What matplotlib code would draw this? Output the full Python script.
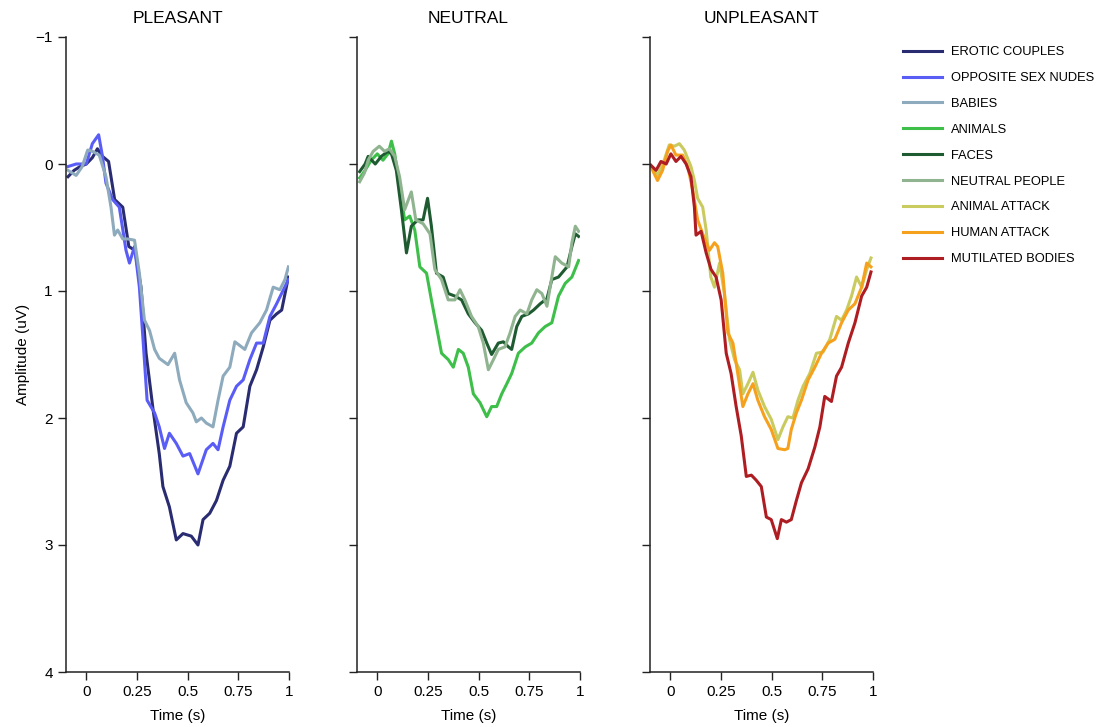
import matplotlib.pyplot as plt

plt.rcParams['font.family'] = ['Liberation Sans', 'DejaVu Sans']

# --- data (time in s, amplitude in uV) ---
t_erotic = [-0.09, -0.06, -0.03, 0.0, 0.03, 0.055, 0.08, 0.11, 0.14, 0.18, 0.21, 0.24, 0.27, 0.295,
            0.33, 0.36, 0.378, 0.41, 0.444, 0.477, 0.518, 0.551, 0.576, 0.609, 0.642, 0.675,
            0.708, 0.741, 0.774, 0.807, 0.84, 0.873, 0.906, 0.939, 0.964, 0.997]
v_erotic = [0.10, 0.05, 0.02, 0.0, -0.05, -0.12, -0.06, -0.02, 0.28, 0.34, 0.65, 0.68, 0.97, 1.49,
            1.94, 2.28, 2.54, 2.70, 2.96, 2.91, 2.93, 3.0, 2.80, 2.75, 2.65, 2.49,
            2.38, 2.12, 2.07, 1.75, 1.62, 1.44, 1.23, 1.18, 1.15, 0.89]

t_nudes = [-0.09, -0.05, 0.0, 0.03, 0.061, 0.08, 0.097, 0.13, 0.163, 0.196, 0.213, 0.238, 0.262,
           0.279, 0.30, 0.337, 0.36, 0.386, 0.41, 0.444, 0.477, 0.51, 0.551, 0.592, 0.625, 0.65,
           0.675, 0.708, 0.741, 0.774, 0.807, 0.84, 0.873, 0.906, 0.939, 0.997]
v_nudes = [0.02, 0.0, 0.0, -0.16, -0.23, -0.06, 0.15, 0.28, 0.34, 0.68, 0.78, 0.65, 0.97,
           1.36, 1.86, 1.96, 2.07, 2.24, 2.12, 2.20, 2.30, 2.28, 2.44, 2.25, 2.20, 2.25,
           2.07, 1.86, 1.75, 1.70, 1.54, 1.41, 1.41, 1.20, 1.10, 0.91]

t_babies = [-0.09, -0.05, -0.02, 0.007, 0.03, 0.064, 0.097, 0.122, 0.139, 0.155, 0.18, 0.205,
            0.238, 0.262, 0.287, 0.312, 0.337, 0.36, 0.403, 0.436, 0.46, 0.493, 0.526, 0.543,
            0.568, 0.592, 0.625, 0.65, 0.675, 0.708, 0.733, 0.766, 0.782, 0.815, 0.856, 0.889,
            0.922, 0.955, 0.98, 0.997]
v_babies = [0.05, 0.09, 0.02, -0.11, -0.10, -0.07, 0.10, 0.34, 0.56, 0.52, 0.59, 0.59,
            0.60, 0.86, 1.23, 1.31, 1.46, 1.53, 1.58, 1.49, 1.70, 1.88, 1.96, 2.03,
            2.00, 2.04, 2.07, 1.86, 1.67, 1.60, 1.40, 1.44, 1.46, 1.33, 1.25, 1.15,
            0.97, 0.99, 0.91, 0.81]

t_animals = [-0.087, -0.06, -0.03, 0.0, 0.028, 0.053, 0.07, 0.086, 0.11, 0.135, 0.16, 0.185,
             0.21, 0.243, 0.267, 0.292, 0.317, 0.35, 0.375, 0.40, 0.424, 0.449, 0.474, 0.507,
             0.54, 0.564, 0.589, 0.614, 0.639, 0.663, 0.696, 0.73, 0.762, 0.795, 0.828, 0.861,
             0.894, 0.927, 0.96, 0.993]
v_animals = [0.11, 0.05, -0.03, -0.08, -0.03, -0.08, -0.18, -0.08, 0.18, 0.44, 0.41, 0.52,
             0.81, 0.86, 1.07, 1.28, 1.49, 1.54, 1.60, 1.46, 1.49, 1.60, 1.81, 1.88,
             1.99, 1.91, 1.91, 1.81, 1.73, 1.65, 1.49, 1.44, 1.41, 1.33, 1.28, 1.25,
             1.04, 0.94, 0.89, 0.76]

t_faces = [-0.087, -0.06, -0.045, -0.01, 0.02, 0.053, 0.07, 0.094, 0.119, 0.144, 0.168, 0.20,
           0.226, 0.248, 0.267, 0.292, 0.325, 0.35, 0.383, 0.416, 0.449, 0.482, 0.515, 0.54,
           0.564, 0.597, 0.622, 0.647, 0.663, 0.688, 0.713, 0.746, 0.771, 0.804, 0.837, 0.861,
           0.894, 0.936, 0.96, 0.977, 0.993]
v_faces = [0.06, 0.0, -0.06, 0.0, -0.06, -0.10, -0.08, 0.05, 0.36, 0.70, 0.49, 0.44,
           0.44, 0.27, 0.49, 0.86, 0.89, 1.02, 1.04, 1.07, 1.18, 1.25, 1.31, 1.41,
           1.50, 1.41, 1.40, 1.44, 1.46, 1.28, 1.20, 1.18, 1.15, 1.10, 1.06, 0.91,
           0.89, 0.81, 0.65, 0.55, 0.57]

t_people = [-0.087, -0.063, -0.045, -0.02, 0.01, 0.036, 0.06, 0.086, 0.11, 0.135, 0.168, 0.19,
            0.226, 0.26, 0.284, 0.317, 0.35, 0.383, 0.408, 0.432, 0.465, 0.498, 0.523, 0.548,
            0.573, 0.597, 0.63, 0.655, 0.68, 0.705, 0.738, 0.762, 0.787, 0.812, 0.837, 0.861,
            0.878, 0.91, 0.944, 0.96, 0.977, 0.993]
v_people = [0.14, 0.07, -0.03, -0.10, -0.14, -0.10, -0.12, -0.06, 0.10, 0.36, 0.22, 0.44,
            0.47, 0.55, 0.83, 0.91, 1.07, 1.07, 0.99, 1.07, 1.20, 1.28, 1.41, 1.62,
            1.54, 1.46, 1.44, 1.33, 1.20, 1.15, 1.18, 1.07, 0.99, 1.02, 1.12, 0.89,
            0.73, 0.78, 0.81, 0.62, 0.49, 0.53]

t_animal_attack = [-0.096, -0.063, -0.03, -0.005, 0.02, 0.045, 0.069, 0.102, 0.119, 0.135, 0.16,
                   0.177, 0.20, 0.218, 0.243, 0.267, 0.292, 0.317, 0.342, 0.358, 0.383, 0.408,
                   0.432, 0.465, 0.498, 0.531, 0.556, 0.58, 0.605, 0.63, 0.655, 0.688, 0.721,
                   0.754, 0.787, 0.82, 0.845, 0.87, 0.894, 0.919, 0.944, 0.969, 0.99]
v_animal_attack = [0.01, 0.09, -0.03, -0.15, -0.14, -0.16, -0.11, 0.02, 0.13, 0.27, 0.34,
                   0.52, 0.89, 0.97, 0.78, 1.02, 1.38, 1.54, 1.62, 1.81, 1.73, 1.64,
                   1.78, 1.91, 2.01, 2.17, 2.07, 1.99, 2.00, 1.86, 1.75, 1.65, 1.49,
                   1.48, 1.38, 1.20, 1.23, 1.15, 1.04, 0.89, 0.97, 0.83, 0.74]

t_human_attack = [-0.096, -0.063, -0.038, -0.013, 0.003, 0.028, 0.061, 0.086, 0.11, 0.135, 0.16,
                  0.193, 0.218, 0.234, 0.259, 0.284, 0.309, 0.333, 0.358, 0.383, 0.408, 0.432,
                  0.465, 0.498, 0.531, 0.564, 0.58, 0.597, 0.622, 0.647, 0.68, 0.713, 0.746,
                  0.779, 0.812, 0.845, 0.878, 0.911, 0.944, 0.969, 0.99]
v_human_attack = [0.02, 0.13, 0.05, -0.10, -0.15, -0.07, -0.07, 0.02, 0.20, 0.44, 0.55,
                  0.68, 0.62, 0.65, 0.86, 1.33, 1.41, 1.65, 1.91, 1.81, 1.73, 1.86,
                  1.99, 2.09, 2.24, 2.25, 2.24, 2.09, 1.96, 1.86, 1.70, 1.60, 1.49,
                  1.41, 1.38, 1.25, 1.15, 1.10, 0.97, 0.78, 0.81]

t_mutilated = [-0.096, -0.07, -0.046, -0.02, 0.003, 0.028, 0.053, 0.078, 0.102, 0.119, 0.127,
               0.152, 0.177, 0.201, 0.226, 0.251, 0.276, 0.30, 0.325, 0.35, 0.375, 0.40,
               0.424, 0.449, 0.474, 0.498, 0.528, 0.548, 0.573, 0.597, 0.622, 0.647, 0.68,
               0.713, 0.738, 0.762, 0.795, 0.82, 0.845, 0.878, 0.911, 0.944, 0.969, 0.99]
v_mutilated = [0.01, 0.05, -0.02, 0.0, -0.08, -0.02, -0.06, 0.0, 0.10, 0.34, 0.56,
               0.53, 0.70, 0.83, 0.89, 1.07, 1.49, 1.65, 1.91, 2.14, 2.46, 2.45,
               2.49, 2.54, 2.78, 2.80, 2.95, 2.80, 2.82, 2.80, 2.65, 2.51, 2.40,
               2.23, 2.07, 1.83, 1.87, 1.67, 1.60, 1.41, 1.25, 1.04, 0.97, 0.85]

panel_titles = ['PLEASANT', 'NEUTRAL', 'UNPLEASANT']
panel_series = [
    [('EROTIC COUPLES', t_erotic, v_erotic, '#2a2c72'),
     ('OPPOSITE SEX NUDES', t_nudes, v_nudes, '#5a5cf6'),
     ('BABIES', t_babies, v_babies, '#8eaabd')],
    [('ANIMALS', t_animals, v_animals, '#3dbf4a'),
     ('FACES', t_faces, v_faces, '#1f5b31'),
     ('NEUTRAL PEOPLE', t_people, v_people, '#8fb48f')],
    [('ANIMAL ATTACK', t_animal_attack, v_animal_attack, '#c9cb5e'),
     ('HUMAN ATTACK', t_human_attack, v_human_attack, '#f6a11e'),
     ('MUTILATED BODIES', t_mutilated, v_mutilated, '#ae1d22')],
]
x_ticks = [0, 0.25, 0.5, 0.75, 1]
x_tick_labels = ['0', '0.25', '0.5', '0.75', '1']
y_ticks = [-1, 0, 1, 2, 3, 4]

fig = plt.figure(figsize=(11.03, 7.27), dpi=100)
lefts = [66 / 1103, 357 / 1103, 650 / 1103]
handles = []
for i, left in enumerate(lefts):
    ax = fig.add_axes([left, 55 / 727, 223 / 1103, 635 / 727])
    for label, t, v, col in panel_series[i]:
        line, = ax.plot(t, v, color=col, lw=2.2, label=label)
        handles.append(line)
    ax.set_xlim(-0.1, 1.0)
    ax.set_ylim(4, -1)
    ax.set_xticks(x_ticks)
    ax.set_xticklabels(x_tick_labels)
    ax.set_yticks(y_ticks)
    if i == 0:
        ax.set_ylabel('Amplitude (uV)', fontsize=11)
    else:
        ax.set_yticklabels([])
    ax.set_xlabel('Time (s)', fontsize=11, labelpad=7)
    ax.set_title(panel_titles[i], fontsize=12.5, pad=10)
    for s in ['top', 'right']:
        ax.spines[s].set_visible(False)
    for s in ['left', 'bottom']:
        ax.spines[s].set_linewidth(1.1)
        ax.spines[s].set_color('#222222')
    ax.tick_params(direction='out', length=6, width=1.0, labelsize=11, color='#222222')

fig.legend(handles=handles, loc='upper left', bbox_to_anchor=(898 / 1103, 1 - 41 / 727),
           frameon=False, fontsize=9.3, handlelength=3.0, handletextpad=0.7,
           labelspacing=1.07, borderaxespad=0)

fig.savefig('out.png', dpi=100)
